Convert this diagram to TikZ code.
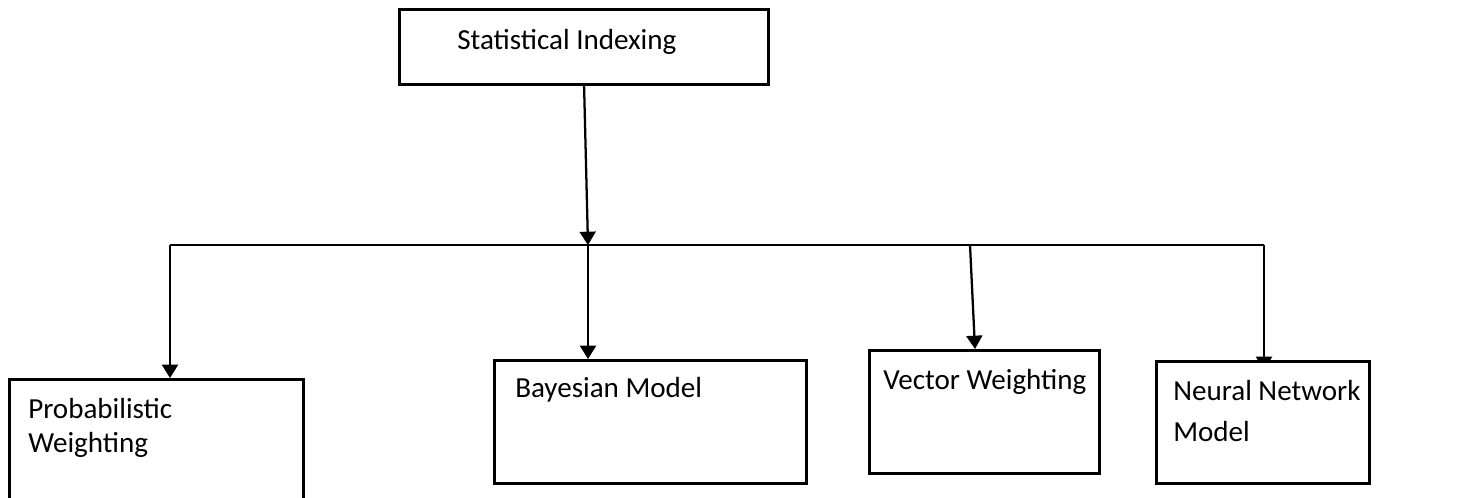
\documentclass[tikz,border=0pt]{standalone}
\usepackage{fontspec}
\setmainfont{Carlito}
\usetikzlibrary{arrows.meta,backgrounds}
\begin{document}
\begin{tikzpicture}[x=0.75pt,y=-0.75pt,
  box/.style={draw,line width=2pt,fill=white,rectangle,inner sep=0pt,anchor=north west},
  lbl/.style={anchor=base west,inner sep=0pt,font=\fontsize{21.8pt}{26pt}\selectfont},
  conn/.style={line width=1.7pt},
  arr/.style={conn,-{Triangle[length=10pt,width=12pt]}}]
\clip (0,0) rectangle (1477,497);
\useasboundingbox (0,0) rectangle (1477,497);

% boxes
\node[box,minimum width=369*0.75pt,minimum height=75*0.75pt] (top) at (398,8) {};
\node[box,minimum width=294*0.75pt,minimum height=140*0.75pt] (pw) at (8,378) {};
\node[box,minimum width=312*0.75pt,minimum height=123*0.75pt] (bm) at (493,359) {};
\node[box,minimum width=230*0.75pt,minimum height=123*0.75pt] (vw) at (868,349) {};
\node[box,minimum width=213*0.75pt,minimum height=122*0.75pt] (nn) at (1155,360) {};

% labels
\node[lbl] (tTop) at (457,49) {Statistical Indexing};
\node[lbl] (tPw1) at (28,418) {Probabilistic};
\node[lbl] (tPw2) at (28,452) {Weighting};
\node[lbl] (tBm) at (515,397) {Bayesian Model};
\node[lbl] (tVw) at (883,389) {Vector Weighting};
\node[lbl] (tNn1) at (1173,400) {Neural Network};
\node[lbl] (tNn2) at (1173,441) {Model};

% junction points on the distribution bar
\coordinate (stemTop) at (584,83);
\coordinate (jMid) at (588,245);
\coordinate (jL) at (170,245);
\coordinate (jR) at (1264,245);
\coordinate (jV) at (970,245);

\begin{scope}[on background layer]
  \draw[arr] (stemTop) -- (jMid);
  \draw[conn] (jL) -- (jR);
  \draw[arr] (jL) -- (jL |- pw.north);
  \draw[arr] (jMid) -- (jMid |- bm.north);
  \draw[arr] (jV) -- (975,349);
  \draw[arr,shorten >=-10*0.75pt] (jR) -- (jR |- nn.north);
\end{scope}
\end{tikzpicture}
\end{document}
